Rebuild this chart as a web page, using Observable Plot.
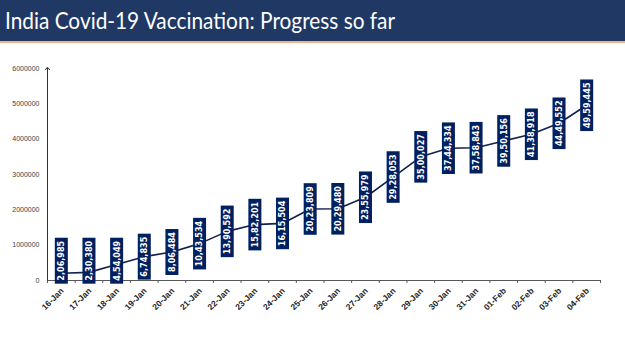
<!DOCTYPE html>
<html>
<head>
<meta charset="utf-8">
<script src="https://cdn.jsdelivr.net/npm/d3@7"></script>
<script src="https://cdn.jsdelivr.net/npm/@observablehq/plot@0.6"></script>
<style>
  html, body { margin: 0; padding: 0; background: #fff; }
  #wrap { width: 625px; height: 351px; overflow: hidden; position: relative; }
  #title { height: 41px; background: #1f3864; border-bottom: 2px solid #f4b183; }
  #title svg { display: block; }
  #chart svg { display: block; }
</style>
</head>
<body>
<div id="wrap">
  <div id="title">
    <svg width="625" height="41">
      <text x="5" y="29" fill="#ffffff" font-family="Lato, 'Open Sans', sans-serif" font-size="24" textLength="390" lengthAdjust="spacingAndGlyphs">India Covid-19 Vaccination: Progress so far</text>
    </svg>
  </div>
  <div id="chart"></div>
</div>
<script>
const dates = ["16-Jan","17-Jan","18-Jan","19-Jan","20-Jan","21-Jan","22-Jan","23-Jan","24-Jan","25-Jan",
               "26-Jan","27-Jan","28-Jan","29-Jan","30-Jan","31-Jan","01-Feb","02-Feb","03-Feb","04-Feb"];
const doses = [206985, 230380, 454049, 674835, 806484, 1043534, 1390592, 1582201, 1615504, 2023809,
               2029480, 2355979, 2928053, 3500027, 3744334, 3758843, 3950156, 4138918, 4449552, 4959445];
const doseLabels = ["2,06,985","2,30,380","4,54,049","6,74,835","8,06,484","10,43,534","13,90,592","15,82,201","16,15,504","20,23,809",
                    "20,29,480","23,55,979","29,28,053","35,00,027","37,44,334","37,58,843","39,50,156","41,38,918","44,49,552","49,59,445"];
const yTicks = [0, 1000000, 2000000, 3000000, 4000000, 5000000, 6000000];

const data = dates.map((d, i) => ({i, date: d, v: doses[i], label: doseLabels[i]}));

const LABEL_FONT = "'Liberation Sans Narrow', 'DejaVu Sans Condensed', sans-serif";
const LABEL_SIZE = 9;
const NAVY = "#002060";

function boxRender(index, scales, values, dimensions, context, next) {
  const g = next(index, scales, values, dimensions, context);
  const ctx = document.createElement("canvas").getContext("2d");
  ctx.font = `bold ${LABEL_SIZE}px ${LABEL_FONT}`;
  const ns = "http://www.w3.org/2000/svg";
  for (const t of Array.from(g.querySelectorAll("text"))) {
    const w = ctx.measureText(t.textContent).width + 6;
    const r = document.createElementNS(ns, "rect");
    r.setAttribute("x", -w / 2);
    r.setAttribute("y", -6.5);
    r.setAttribute("width", w);
    r.setAttribute("height", 13);
    r.setAttribute("fill", NAVY);
    r.setAttribute("stroke", "none");
    const tr = t.getAttribute("transform");
    if (tr) r.setAttribute("transform", tr);
    t.parentNode.insertBefore(r, t);
  }
  return g;
}

const chart = Plot.plot({
  width: 625,
  height: 308,
  marginTop: 25,
  marginBottom: 71,
  marginLeft: 47,
  marginRight: 25,
  style: {fontFamily: "'Liberation Sans', Arial, sans-serif", background: "#fff", overflow: "visible"},
  x: {domain: [0, dates.length], axis: null},
  y: {domain: [0, 6000000], axis: null},
  marks: [
    Plot.axisY({ticks: yTicks, tickFormat: d => String(d), tickSize: 0, tickPadding: 8, fontSize: 7, color: "#404040", label: null}),
    Plot.axisX({ticks: d3.range(0, dates.length + 1), tickFormat: () => "", tickSize: 3, label: null, stroke: "#595959"}),
    Plot.ruleY([0], {stroke: "#595959", strokeWidth: 1}),
    Plot.link([0], {x1: 0, x2: 0, y1: 0, y2: 6000000, stroke: "#333", strokeWidth: 1, markerEnd: "arrow"}),
    Plot.line(data, {x: d => d.i + 0.5, y: "v", stroke: "#13214d", strokeWidth: 1.6}),
    Plot.text(data, {
      x: d => d.i + 0.5, y: d => Math.max(d.v, 560000), text: "label", rotate: -90,
      fill: "#fff", fontWeight: "bold", fontSize: LABEL_SIZE, fontFamily: LABEL_FONT,
      render: boxRender
    }),
    Plot.text(data, {
      x: d => d.i + 0.5, y: 0, text: "date", rotate: -45, textAnchor: "end",
      dy: 9, dx: 1, fontWeight: "bold", fontSize: 8.5, fill: "#262626"
    })
  ]
});
document.getElementById("chart").appendChild(chart);
</script>
</body>
</html>
